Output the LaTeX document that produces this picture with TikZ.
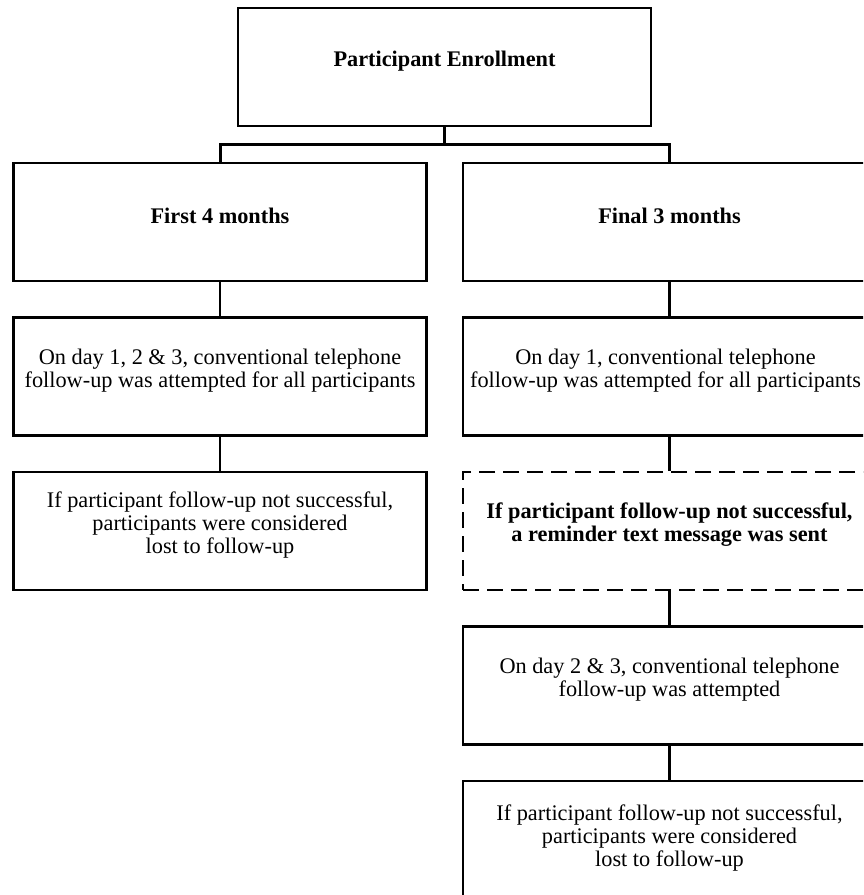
\documentclass[tikz,border=0pt]{standalone}
\usepackage{fontspec}
\setmainfont{Liberation Serif}
\usetikzlibrary{positioning}

\begin{document}
\begin{tikzpicture}[x=0.5pt, y=-0.5pt, node distance=77.25pt, on grid,
    box/.style={draw, line width=1.1pt, minimum width=206.5pt, minimum height=59pt, inner sep=0pt},
    dashbox/.style={box, line width=1.4pt, dash pattern=on 8pt off 4pt},
    txt/.style={align=center, font=\fontsize{11.15}{11.6}\selectfont},
    btxt/.style={align=center, font=\fontsize{11.15}{11.6}\selectfont\bfseries},
    link/.style={line width=1.1pt}]
        \useasboundingbox (0,0) rectangle (863,895);
        \clip (0,0) rectangle (863,895);

        % boxes
        \node[box] (enroll) at (444.5,67) {};
        \node[box] (first) at (220,222) {};
        \node[box] (final) [right=224.75pt of first] {};

        \node[box] (call1) [below=of first] {};
        \node[box] (lost1) [below=of call1] {};

        \node[box] (call2) [below=of final] {};
        \node[dashbox] (sms) [below=of call2] {};
        \node[box] (call3) [below=of sms] {};
        \node[box] (lost2) [below=of call3] {};

        % texts, a little above the middle of each box
        \node[btxt] (enroll-t) at ([yshift=3pt]enroll.center) {Participant Enrollment};
        \node[btxt] (first-t) at ([yshift=3pt]first.center) {First 4 months};
        \node[btxt] (final-t) at ([yshift=3pt]final.center) {Final 3 months};
        \node[txt] (call1-t) at ([yshift=3pt]call1.center)
            {On day 1, 2 \& 3, conventional telephone\\follow-up was attempted for all participants};
        \node[txt] (lost1-t) at ([yshift=3pt]lost1.center)
            {If participant follow-up not successful,\\participants were considered\\lost to follow-up};
        \node[txt] (call2-t) at ([xshift=-2pt, yshift=3pt]call2.center)
            {On day 1, conventional telephone\\follow-up was attempted for all participants};
        \node[btxt] (sms-t) at ([yshift=3pt]sms.center)
            {If participant follow-up not successful,\\a reminder text message was sent};
        \node[txt] (call3-t) at ([yshift=3pt]call3.center)
            {On day 2 \& 3, conventional telephone\\follow-up was attempted};
        \node[txt] (lost2-t) at ([yshift=1pt]lost2.center)
            {If participant follow-up not successful,\\participants were considered\\lost to follow-up};

        % branch
        \coordinate (split) at (444.5,144);
        \draw[link] (enroll) -- (split);
        \draw[line width=1.5pt] (first.north) |- (split) -| (final.north);

        \path[link]
        (first) edge (call1)
        (call1) edge (lost1)
        (final) edge (call2)
        (call2) edge (sms)
        (sms) edge (call3)
        (call3) edge (lost2);

\end{tikzpicture}
\end{document}
